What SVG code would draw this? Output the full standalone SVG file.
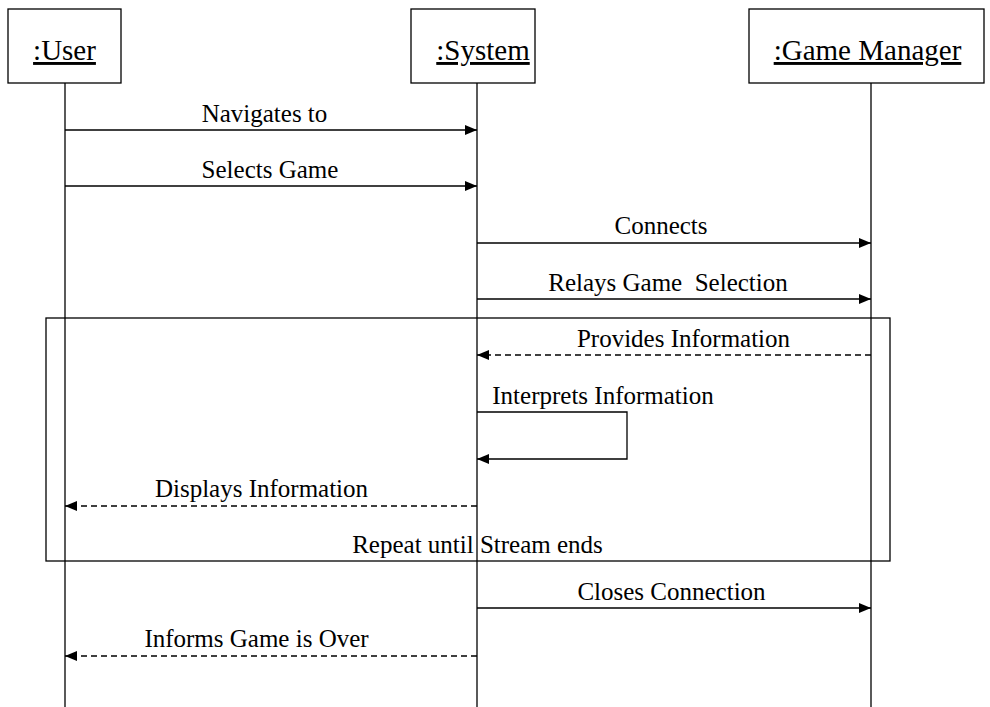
<svg xmlns="http://www.w3.org/2000/svg" width="990" height="707" viewBox="0 0 990 707">
<style>
.box{fill:#fff;stroke:#000;stroke-width:1.3}
.life{stroke:#000;stroke-width:1.3;fill:none}
.msg{stroke:#000;stroke-width:1.3;fill:none}
.dash{stroke-dasharray:6 4}
.lbl{font-family:'Liberation Serif','DejaVu Serif',serif;font-size:25px;fill:#000;text-anchor:middle}
.hdr{font-family:'Liberation Serif','DejaVu Serif',serif;font-size:29px;fill:#000;text-anchor:middle;text-decoration:underline}
</style>
<defs>
<marker id="ah" viewBox="0 0 12 10" refX="12" refY="5" markerWidth="12" markerHeight="10" markerUnits="userSpaceOnUse" orient="auto">
<path d="M0,0 L12,5 L0,10 Z" fill="#000"/>
</marker>
</defs>
<rect width="990" height="707" fill="#fff"/>
<g id="lifelines">
<line class="life" x1="65" y1="83" x2="65" y2="707"/>
<line class="life" x1="477" y1="83" x2="477" y2="707"/>
<line class="life" x1="871" y1="83" x2="871" y2="707"/>
</g>
<g id="user">
<rect class="box" x="8" y="9" width="113" height="74"/>
<text class="hdr" x="64.5" y="60">:User</text>
</g>
<g id="system">
<rect class="box" x="411" y="9" width="124" height="74"/>
<text class="hdr" x="483" y="60">:System</text>
</g>
<g id="gamemanager">
<rect class="box" x="749" y="9" width="235" height="74"/>
<text class="hdr" x="867.5" y="60">:Game Manager</text>
</g>
<g id="loop">
<rect x="46" y="318" width="844" height="243" fill="none" stroke="#000" stroke-width="1.3"/>
<text class="lbl" x="477.5" y="553">Repeat until Stream ends</text>
</g>
<g id="connectors">
<line class="msg" x1="65" y1="130" x2="477" y2="130" marker-end="url(#ah)"/>
<text class="lbl" x="264.5" y="122">Navigates to</text>
<line class="msg" x1="65" y1="186" x2="477" y2="186" marker-end="url(#ah)"/>
<text class="lbl" x="270" y="178">Selects Game</text>
<line class="msg" x1="477" y1="243" x2="871" y2="243" marker-end="url(#ah)"/>
<text class="lbl" x="661" y="234">Connects</text>
<line class="msg" x1="477" y1="299" x2="871" y2="299" marker-end="url(#ah)"/>
<text class="lbl" x="668" y="291" xml:space="preserve">Relays Game  Selection</text>
<line class="msg dash" x1="871" y1="355" x2="477" y2="355" marker-end="url(#ah)"/>
<text class="lbl" x="683.5" y="347">Provides Information</text>
<polyline class="msg" points="477,412 627,412 627,459 477,459" marker-end="url(#ah)"/>
<text class="lbl" x="603" y="404">Interprets Information</text>
<line class="msg dash" x1="477" y1="506" x2="65" y2="506" marker-end="url(#ah)"/>
<text class="lbl" x="261.5" y="497">Displays Information</text>
<line class="msg" x1="477" y1="608" x2="871" y2="608" marker-end="url(#ah)"/>
<text class="lbl" x="671.5" y="600">Closes Connection</text>
<line class="msg dash" x1="477" y1="656" x2="65" y2="656" marker-end="url(#ah)"/>
<text class="lbl" x="256.5" y="647">Informs Game is Over</text>
</g>
</svg>
